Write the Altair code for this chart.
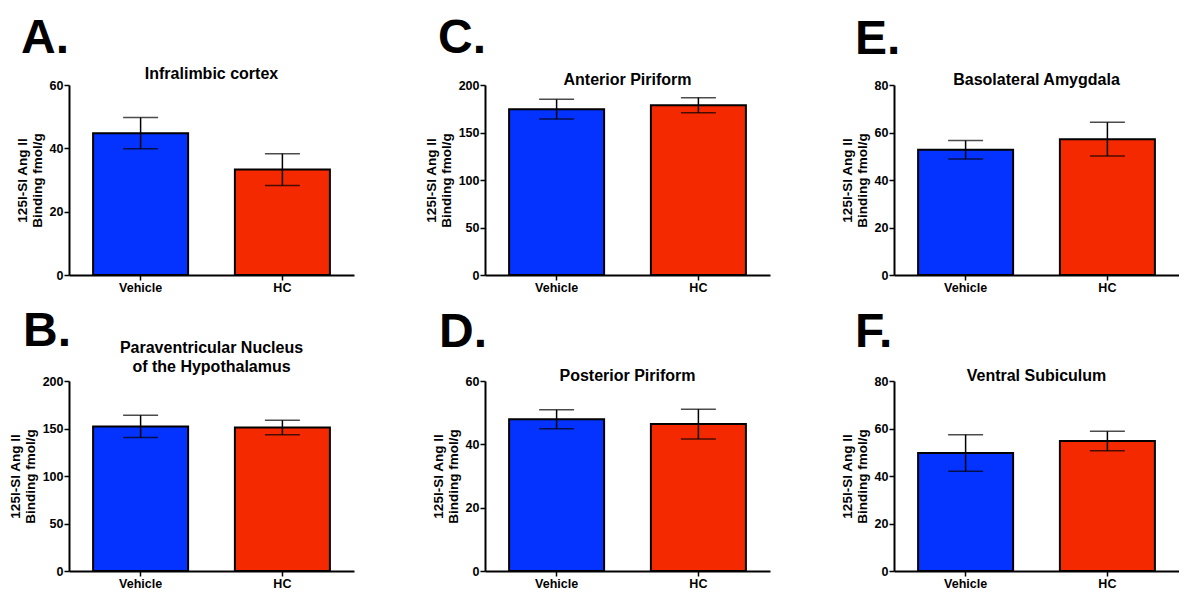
import altair as alt
import pandas as pd

groups = ["Vehicle", "HC"]
bar_colors = ["#0433FF", "#F52900"]

letters = ["A.", "C.", "E.", "B.", "D.", "F."]
region_titles = [
    "Infralimbic cortex",
    "Anterior Piriform",
    "Basolateral Amygdala",
    ["Paraventricular Nucleus", "of the Hypothalamus"],
    "Posterior Piriform",
    "Ventral Subiculum",
]
vehicle_mean = [44.8, 174.6, 52.7, 152.2, 47.9, 49.7]
vehicle_sem = [4.9, 10.3, 3.9, 11.8, 3.0, 7.7]
hc_mean = [33.3, 178.8, 57.2, 151.0, 46.4, 54.7]
hc_sem = [5.0, 7.9, 7.1, 7.6, 4.7, 4.1]
y_max = [60, 200, 80, 200, 60, 80]
tick_step = [10, 25, 10, 25, 10, 10]
label_step = [20, 50, 20, 50, 20, 20]

# layout tweaks per panel (not data)
letter_dx = [-48, -47, -39, -46, -46, -39]
letter_offset = [3, 9, 8, -16, 11, 11]
title_offset = [-3, -9, -9, 0, -9, -9]

FONT = "Liberation Sans"
W, H = 285, 190


def panel(i):
    df = pd.DataFrame({
        "group": groups,
        "mean": [vehicle_mean[i], hc_mean[i]],
        "sem": [vehicle_sem[i], hc_sem[i]],
    })
    df["lo"] = df["mean"] - df["sem"]
    df["hi"] = df["mean"] + df["sem"]
    ticks = list(range(0, y_max[i] + 1, tick_step[i]))
    ls = label_step[i]

    x = alt.X("group:N", sort=groups, title=None,
              scale=alt.Scale(paddingInner=0.33, paddingOuter=0.17),
              axis=alt.Axis(labelAngle=0, labelFont=FONT, labelFontSize=12.5,
                            labelFontWeight="bold", labelColor="black",
                            domainColor="black", domainWidth=2,
                            tickColor="black", tickWidth=1.5, tickSize=5,
                            labelPadding=1))
    yscale = alt.Scale(domain=[0, y_max[i]], nice=False)
    yaxis = alt.Axis(values=ticks, labelExpr=f"datum.value % {ls} == 0 ? datum.label : ''",
                     title=["125I-SI Ang II", "Binding fmol/g"],
                     titleFont=FONT, titleFontSize=13.5, titleFontWeight="bold",
                     titleColor="black", titleLineHeight=15, titlePadding=5,
                     labelFont=FONT, labelFontSize=12.5, labelFontWeight="bold",
                     labelColor="black", labelPadding=1,
                     domainColor="black", domainWidth=2, grid=False,
                     tickColor="black", tickWidth=1.5, tickSize=5)

    base = alt.Chart(df)
    bars = base.mark_bar(stroke="black", strokeWidth=2).encode(
        x=x,
        y=alt.Y("mean:Q", scale=yscale, axis=yaxis),
        color=alt.Color("group:N", scale=alt.Scale(domain=groups, range=bar_colors), legend=None),
    )
    stem = base.mark_rule(color="black", strokeWidth=1.5).encode(
        x=alt.X("group:N", sort=groups), y="lo:Q", y2="hi:Q")
    cap_hi = base.mark_tick(color="black", thickness=1.5, size=35, orient="horizontal").encode(
        x=alt.X("group:N", sort=groups), y="hi:Q")
    cap_lo = base.mark_tick(color="black", thickness=1.5, size=35, orient="horizontal").encode(
        x=alt.X("group:N", sort=groups), y="lo:Q")

    inner = alt.layer(bars, stem, cap_hi, cap_lo).properties(
        width=W, height=H,
        title=alt.TitleParams(region_titles[i], font=FONT, fontSize=16, fontWeight="bold",
                              color="black", anchor="middle", offset=title_offset[i],
                              lineHeight=19),
    )
    return alt.vconcat(inner, title=alt.TitleParams(
        letters[i], font=FONT, fontSize=48, fontWeight="bold", color="black",
        anchor="start", frame="group", dx=letter_dx[i], offset=letter_offset[i]))


chart = alt.concat(*[panel(i) for i in range(6)], columns=3,
                   spacing={"row": 14, "column": 70}).properties(
    padding={"left": 0, "top": 7, "right": 0, "bottom": 0}
).configure_view(stroke=None)

chart.save("out.html", embed_options={"renderer": "svg", "actions": False})
